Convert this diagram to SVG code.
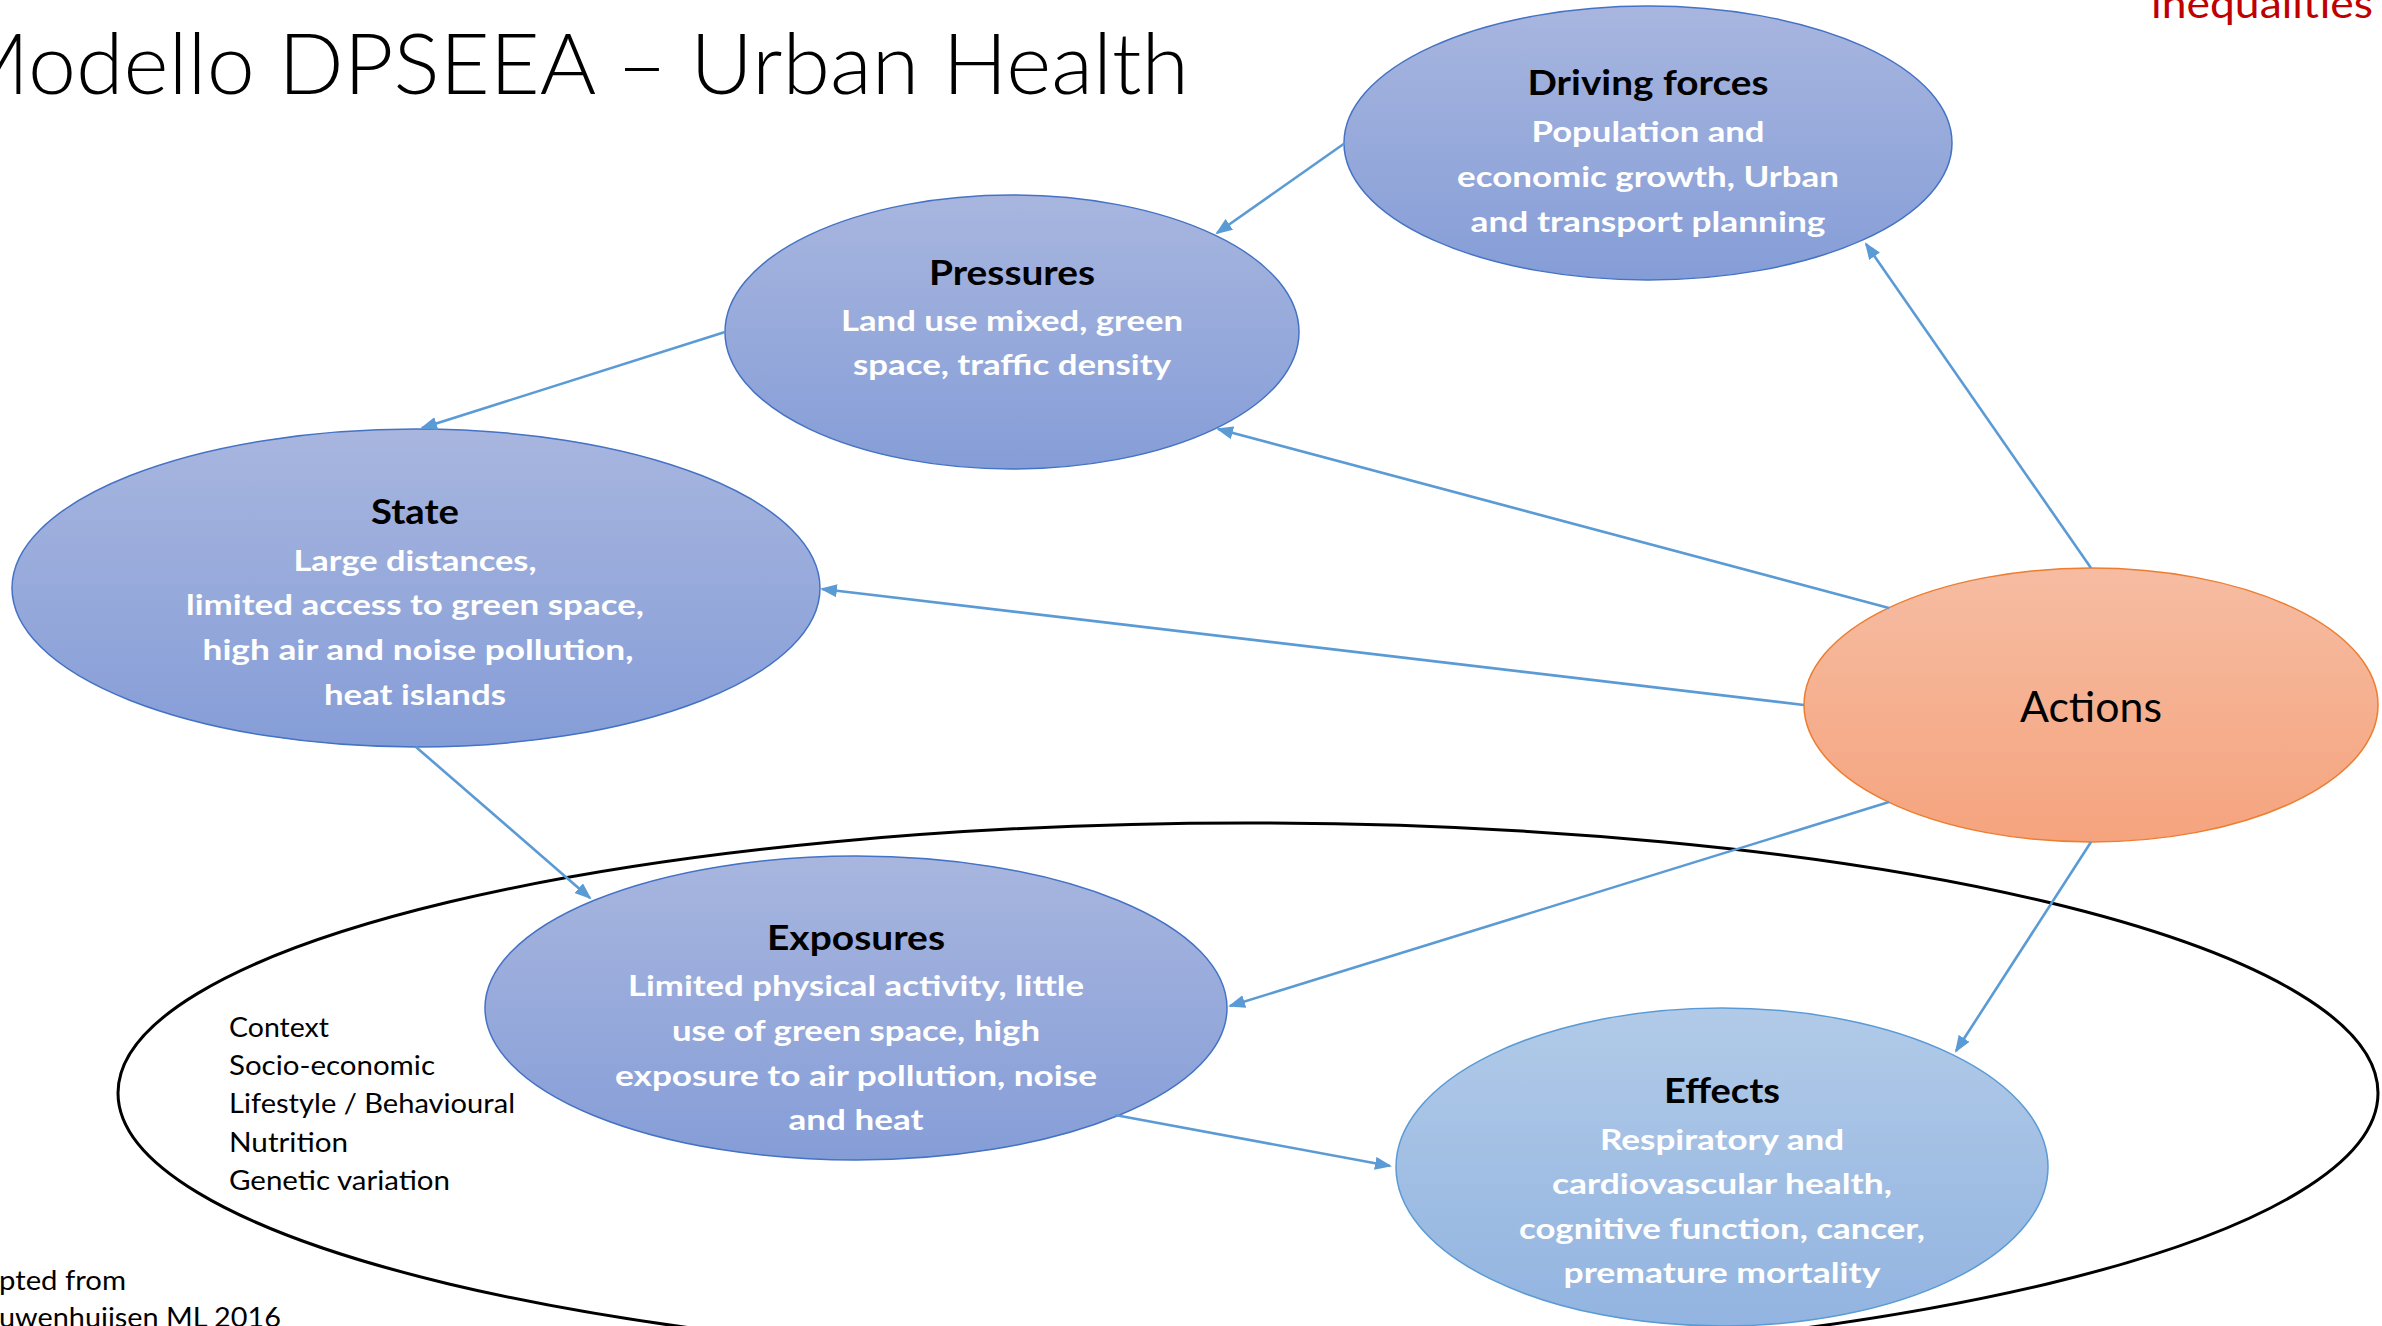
<svg xmlns="http://www.w3.org/2000/svg" width="2382" height="1326" viewBox="0 0 2382 1326">
<defs>
<linearGradient id="gBlue" x1="0" y1="0" x2="0" y2="1"><stop offset="0" stop-color="#A8B6DF"/><stop offset="1" stop-color="#859DD7"/></linearGradient>
<linearGradient id="gLight" x1="0" y1="0" x2="0" y2="1"><stop offset="0" stop-color="#B1CAE8"/><stop offset="1" stop-color="#92B4E0"/></linearGradient>
<linearGradient id="gOrange" x1="0" y1="0" x2="0" y2="1"><stop offset="0" stop-color="#F6BCA2"/><stop offset="1" stop-color="#F5A47E"/></linearGradient>
<marker id="arr" markerUnits="userSpaceOnUse" markerWidth="18" markerHeight="14" refX="15" refY="6.5" orient="auto"><path d="M0,0 L17,6.5 L0,13 z" fill="#5B9BD5"/></marker>
<style>
.t{font-family:Lato,"Liberation Sans",sans-serif}
.hd{font-size:33.5px;font-weight:700;fill:#000;text-anchor:middle}
.bd{font-size:29px;font-weight:700;fill:#fff;text-anchor:middle}
.ctx{font-size:27px;fill:#000}
.nb{stroke:#4472C4;stroke-width:1.5;fill:url(#gBlue)}
.conn line{stroke:#5B9BD5;stroke-width:2.6;marker-end:url(#arr)}
</style>
</defs>
<rect width="2382" height="1326" fill="#fff"/>
<text class="t" x="-49" y="94" font-size="84" font-weight="300" textLength="1238" lengthAdjust="spacingAndGlyphs">Modello DPSEEA – Urban Health</text>
<text class="t" x="2151" y="18" font-size="40" fill="#C00000" textLength="222" lengthAdjust="spacingAndGlyphs">inequalities</text>
<g id="context-ellipse"><ellipse cx="1248" cy="1093" rx="1130" ry="270" fill="none" stroke="#000" stroke-width="3"/></g>
<g id="context-text" class="t ctx">
<text x="229" y="1037" textLength="100" lengthAdjust="spacingAndGlyphs">Context</text>
<text x="229" y="1075" textLength="206" lengthAdjust="spacingAndGlyphs">Socio-economic</text>
<text x="229" y="1113" textLength="286" lengthAdjust="spacingAndGlyphs">Lifestyle / Behavioural</text>
<text x="229" y="1152" textLength="119" lengthAdjust="spacingAndGlyphs">Nutrition</text>
<text x="229" y="1190" textLength="221" lengthAdjust="spacingAndGlyphs">Genetic variation</text>
</g>
<g id="source" class="t ctx">
<text x="-1" y="1290" textLength="127" lengthAdjust="spacingAndGlyphs">pted from</text>
<text x="-1" y="1327" textLength="282" lengthAdjust="spacingAndGlyphs">uwenhuijsen ML 2016</text>
</g>
<g id="driving-forces">
<ellipse class="nb" cx="1648" cy="143" rx="304" ry="137"/>
<text class="t hd" x="1648" y="95" textLength="241" lengthAdjust="spacingAndGlyphs">Driving forces</text>
<text class="t bd" x="1648" y="142" textLength="233" lengthAdjust="spacingAndGlyphs">Population and</text>
<text class="t bd" x="1648" y="187" textLength="382" lengthAdjust="spacingAndGlyphs">economic growth, Urban</text>
<text class="t bd" x="1648" y="232" textLength="355" lengthAdjust="spacingAndGlyphs">and transport planning</text>
</g>
<g id="pressures">
<ellipse class="nb" cx="1012" cy="332" rx="287" ry="137"/>
<text class="t hd" x="1012" y="285" textLength="166" lengthAdjust="spacingAndGlyphs">Pressures</text>
<text class="t bd" x="1012" y="331" textLength="342" lengthAdjust="spacingAndGlyphs">Land use mixed, green</text>
<text class="t bd" x="1012" y="375" textLength="318" lengthAdjust="spacingAndGlyphs">space, traffic density</text>
</g>
<g id="state">
<ellipse class="nb" cx="416" cy="588" rx="404" ry="159"/>
<text class="t hd" x="415" y="524" textLength="88" lengthAdjust="spacingAndGlyphs">State</text>
<text class="t bd" x="415" y="571" textLength="243" lengthAdjust="spacingAndGlyphs">Large distances,</text>
<text class="t bd" x="415" y="615" textLength="458" lengthAdjust="spacingAndGlyphs">limited access to green space,</text>
<text class="t bd" x="418" y="660" textLength="431" lengthAdjust="spacingAndGlyphs">high air and noise pollution,</text>
<text class="t bd" x="415" y="705" textLength="182" lengthAdjust="spacingAndGlyphs">heat islands</text>
</g>
<g id="exposures">
<ellipse class="nb" cx="856" cy="1008" rx="371" ry="152"/>
<text class="t hd" x="856" y="950" textLength="178" lengthAdjust="spacingAndGlyphs">Exposures</text>
<text class="t bd" x="856" y="996" textLength="456" lengthAdjust="spacingAndGlyphs">Limited physical activity, little</text>
<text class="t bd" x="856" y="1041" textLength="368" lengthAdjust="spacingAndGlyphs">use of green space, high</text>
<text class="t bd" x="856" y="1086" textLength="482" lengthAdjust="spacingAndGlyphs">exposure to air pollution, noise</text>
<text class="t bd" x="856" y="1130" textLength="135" lengthAdjust="spacingAndGlyphs">and heat</text>
</g>
<g id="effects">
<ellipse cx="1722" cy="1167" rx="326" ry="159" fill="url(#gLight)" stroke="#5B9BD5" stroke-width="1.5"/>
<text class="t hd" x="1722" y="1103" textLength="116" lengthAdjust="spacingAndGlyphs">Effects</text>
<text class="t bd" x="1722" y="1150" textLength="244" lengthAdjust="spacingAndGlyphs">Respiratory and</text>
<text class="t bd" x="1722" y="1194" textLength="340" lengthAdjust="spacingAndGlyphs">cardiovascular health,</text>
<text class="t bd" x="1722" y="1239" textLength="406" lengthAdjust="spacingAndGlyphs">cognitive function, cancer,</text>
<text class="t bd" x="1722" y="1283" textLength="317" lengthAdjust="spacingAndGlyphs">premature mortality</text>
</g>
<g id="actions">
<ellipse cx="2091" cy="705" rx="287" ry="137" fill="url(#gOrange)" stroke="#ED7D31" stroke-width="1.5"/>
<text class="t" x="2091" y="722" font-size="42" text-anchor="middle" fill="#000" textLength="142" lengthAdjust="spacingAndGlyphs">Actions</text>
</g>
<g id="connectors" class="conn">
<line x1="1345" y1="143" x2="1217" y2="233"/>
<line x1="725" y1="332" x2="422" y2="428"/>
<line x1="416" y1="747" x2="590" y2="898"/>
<line x1="1115" y1="1115" x2="1390" y2="1166"/>
<line x1="2091" y1="568" x2="1866" y2="244"/>
<line x1="1889" y1="608" x2="1218" y2="429"/>
<line x1="1804" y1="705" x2="822" y2="589"/>
<line x1="1889" y1="802" x2="1230" y2="1006"/>
<line x1="2091" y1="842" x2="1956" y2="1051"/>
</g>
</svg>
